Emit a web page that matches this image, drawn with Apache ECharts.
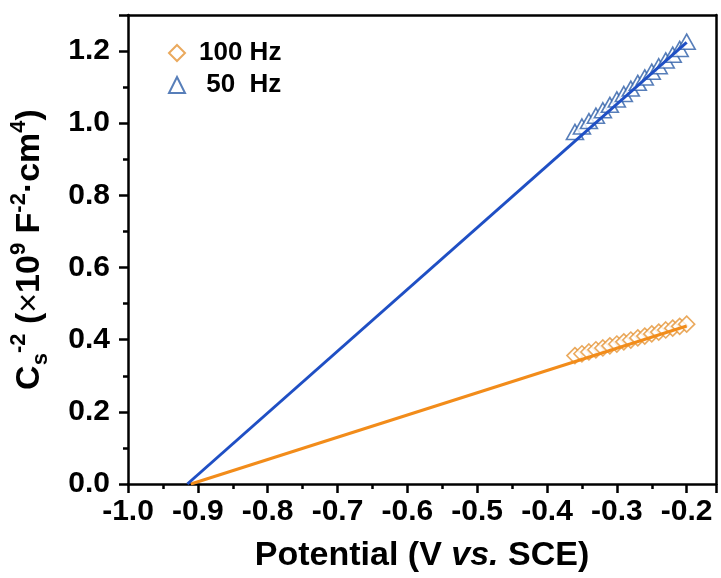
<!DOCTYPE html>
<html>
<head>
<meta charset="utf-8">
<script src="https://cdn.jsdelivr.net/npm/echarts@6/dist/echarts.min.js"></script>
<style>
html,body{margin:0;padding:0;background:#fff;}
#chart{width:721px;height:578px;}
</style>
</head>
<body>
<div id="chart"></div>
<script>
// Data
var potential = [-0.36,-0.35,-0.34,-0.33,-0.32,-0.31,-0.30,-0.29,-0.28,-0.27,-0.26,-0.25,-0.24,-0.23,-0.22,-0.21,-0.20];
var cs100 = [0.356,0.361,0.366,0.372,0.377,0.383,0.388,0.394,0.399,0.405,0.410,0.416,0.421,0.427,0.432,0.437,0.443];
var cs50 = [0.976,0.991,1.006,1.021,1.036,1.051,1.066,1.081,1.096,1.112,1.127,1.143,1.158,1.174,1.190,1.206,1.226];
var fit100X = [-0.910, -0.20];
var fit100Y = [0.0, 0.438];
var fit50X = [-0.915, -0.20];
var fit50Y = [0.0, 1.224];
var seriesNames = ['100 Hz', ' 50  Hz'];

function pairs(xs, ys){ return xs.map(function(x,i){ return [x, ys[i]]; }); }

var FONT = 'Liberation Sans, Arial, sans-serif';
var chart = echarts.init(document.getElementById('chart'), null, {renderer:'canvas'});
var axisLineStyle = {color:'#000', width:2.5};
var option = {
  animation:false,
  backgroundColor:'#fff',
  grid:{left:128, top:15, width:588, height:469, containLabel:false},
  legend:{
    orient:'vertical', left:163, top:35,
    data:seriesNames,
    itemWidth:16, itemHeight:16, itemGap:6,
    textStyle:{fontFamily:FONT, fontWeight:'bold', fontSize:26, color:'#000', padding:[0,0,0,9]}
  },
  xAxis:[{
    type:'value', min:-1.0, max:-0.158, interval:0.1,
    position:'bottom',
    axisLine:{show:true, onZero:false, lineStyle:axisLineStyle},
    axisTick:{show:true, inside:false, length:9, lineStyle:{color:'#000', width:2.5}},
    minorTick:{show:true, splitNumber:2, length:5, lineStyle:{color:'#000', width:2.5}},
    splitLine:{show:false},
    axisLabel:{showMaxLabel:false, margin:13, fontFamily:FONT, fontWeight:'bold', fontSize:30, color:'#000',
      formatter:function(v){ return v.toFixed(1); }},
    name:'{b|Potential (V }{i|vs.}{b| SCE)}',
    nameLocation:'middle', nameGap:55,
    nameTextStyle:{rich:{
      b:{fontFamily:FONT, fontWeight:'bold', fontSize:34, color:'#000'},
      i:{fontFamily:FONT, fontWeight:'bold', fontStyle:'italic', fontSize:34, color:'#000'}
    }}
  },{
    type:'value', min:-1.0, max:-0.158, position:'top',
    axisLine:{show:true, onZero:false, lineStyle:axisLineStyle},
    axisTick:{show:false}, axisLabel:{show:false}, splitLine:{show:false}
  }],
  yAxis:[{
    type:'value', min:0, max:1.3, interval:0.2,
    position:'left',
    axisLine:{show:true, onZero:false, lineStyle:axisLineStyle},
    axisTick:{show:true, inside:false, length:9, lineStyle:{color:'#000', width:2.5}},
    minorTick:{show:true, splitNumber:2, length:5, lineStyle:{color:'#000', width:2.5}},
    splitLine:{show:false},
    axisLabel:{showMaxLabel:false, margin:18, fontFamily:FONT, fontWeight:'bold', fontSize:30, color:'#000',
      formatter:function(v){ return v.toFixed(1); }},
    name:'{b|C}{sub|s}{sup|-2}{b| (}{n|\u00d7}{b|10}{sup|9}{b| F}{sup|-2}{b|\u00b7cm}{sup|4}{b|)}',
    nameLocation:'middle', nameRotate:90, nameGap:76,
    nameTextStyle:{rich:{
      b:{fontFamily:FONT, fontWeight:'bold', fontSize:34, color:'#000', lineHeight:44, verticalAlign:'middle'},
      n:{fontFamily:FONT, fontWeight:'normal', fontSize:34, color:'#000', lineHeight:44, verticalAlign:'middle'},
      sup:{fontFamily:FONT, fontWeight:'bold', fontSize:22, color:'#000', lineHeight:44, verticalAlign:'top'},
      sub:{fontFamily:FONT, fontWeight:'bold', fontSize:22, color:'#000', lineHeight:44, verticalAlign:'bottom'}
    }}
  },{
    type:'value', min:0, max:1.3, position:'right',
    axisLine:{show:true, onZero:false, lineStyle:axisLineStyle},
    axisTick:{show:false}, axisLabel:{show:false}, splitLine:{show:false}
  }],
  series:[
    {name:seriesNames[0], type:'scatter', data:pairs(potential, cs100), symbol:'diamond', symbolSize:16,
      itemStyle:{color:'#fff', borderColor:'#e59435', borderWidth:1.6}, z:2},
    {name:seriesNames[1], type:'scatter', data:pairs(potential, cs50), symbol:'triangle', symbolSize:[17,15],
      itemStyle:{color:'#fff', borderColor:'#2d5ea8', borderWidth:1.6}, z:2},
    {name:'fit100', type:'line', data:pairs(fit100X, fit100Y), showSymbol:false, symbol:'none',
      lineStyle:{color:'#f28c1a', width:3}, z:3},
    {name:'fit50', type:'line', data:pairs(fit50X, fit50Y), showSymbol:false, symbol:'none',
      lineStyle:{color:'#1f4fc4', width:3}, z:3}
  ]
};
chart.setOption(option);
</script>
</body>
</html>
